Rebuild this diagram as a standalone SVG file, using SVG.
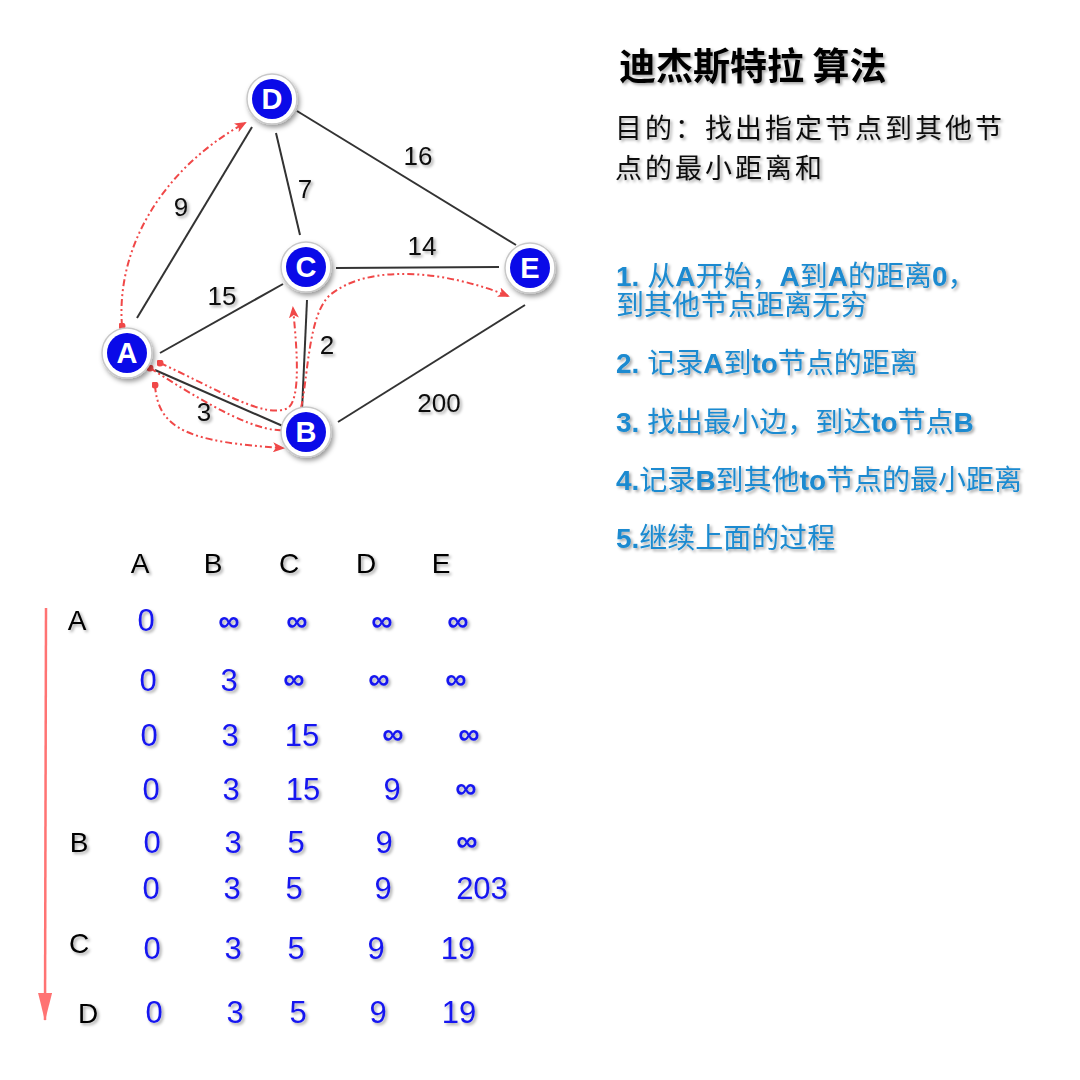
<svg xmlns="http://www.w3.org/2000/svg" width="1080" height="1080" viewBox="0 0 1080 1080">
<defs>
  <filter id="sh" x="-20%" y="-20%" width="150%" height="150%">
    <feDropShadow dx="2" dy="2" stdDeviation="1.5" flood-color="#000" flood-opacity="0.35"/>
  </filter>
  <filter id="nsh" x="-40%" y="-40%" width="190%" height="190%">
    <feDropShadow dx="2" dy="3" stdDeviation="2.5" flood-color="#000" flood-opacity="0.4"/>
  </filter>
  <marker id="ra" viewBox="0 0 12 10" refX="10" refY="5" markerWidth="12" markerHeight="10" markerUnits="userSpaceOnUse" orient="auto">
    <path d="M0,0 L12,5 L0,10 L3,5 Z" fill="#f04848"/>
  </marker>
  <marker id="rd" viewBox="0 0 8 8" refX="4" refY="4" markerWidth="7" markerHeight="7" markerUnits="userSpaceOnUse">
    <circle cx="4" cy="4" r="4" fill="#f04848"/>
  </marker>
  <marker id="va" viewBox="0 0 28 14" refX="27" refY="7" markerWidth="28" markerHeight="14" markerUnits="userSpaceOnUse" orient="auto">
    <path d="M0,0 L28,7 L0,14 Z" fill="#ff7373"/>
  </marker>
</defs>
<style>
  .edge { stroke:#333; stroke-width:2; fill:none; }
  .path { stroke:#f04848; stroke-width:2; fill:none; stroke-dasharray:7 3 2 3 2 3; marker-start:url(#rd); marker-end:url(#ra); }
  .ring { fill:#fff; stroke:#c8c8c8; stroke-width:1.5; filter:url(#nsh); }
  .core { fill:#0a0ae8; }
  .nl { font-family:"Liberation Sans", Arial, sans-serif; font-weight:bold; font-size:29px; fill:#fff; text-anchor:middle; }
  .el { font-family:"Liberation Sans", Arial, sans-serif; font-size:26px; fill:#111; text-anchor:middle; filter:url(#sh); }
  .title { font-family:"Noto Sans CJK SC", sans-serif; font-weight:bold; font-size:37px; fill:#000; filter:url(#sh); }
  .sub { font-family:"Noto Sans CJK SC", sans-serif; font-size:27px; letter-spacing:3px; fill:#111; filter:url(#sh); }
  .step { font-family:"Liberation Sans", "Noto Sans CJK SC", sans-serif; font-size:28px; fill:#1a8ad0; filter:url(#sh); }
  .step tspan.b { font-weight:bold; }
  .hd { font-family:"Liberation Sans", Arial, sans-serif; font-size:28px; fill:#000; text-anchor:middle; filter:url(#sh); }
  .num { font-family:"Liberation Sans", Arial, sans-serif; font-size:31px; fill:#1414f0; text-anchor:middle; filter:url(#sh); }
  .inf { font-family:"Liberation Sans", Arial, sans-serif; font-weight:bold; font-size:30px; fill:#1414f0; text-anchor:middle; filter:url(#sh); }
</style>
<rect width="1080" height="1080" fill="#fff"/>

<g id="connectors">
  <line class="edge" x1="297" y1="111" x2="516" y2="245"/>
  <line class="edge" x1="276" y1="133" x2="300" y2="235"/>
  <line class="edge" x1="137" y1="318" x2="252" y2="127"/>
  <line class="edge" x1="160" y1="353" x2="283" y2="284"/>
  <line class="edge" x1="336" y1="268" x2="499" y2="267"/>
  <line class="edge" x1="307" y1="300" x2="302" y2="410"/>
  <line class="edge" x1="155" y1="370" x2="285" y2="427"/>
  <line class="edge" x1="338" y1="422" x2="525" y2="305"/>
  <text class="el" x="181" y="216">9</text>
  <text class="el" x="305" y="198">7</text>
  <text class="el" x="418" y="165">16</text>
  <text class="el" x="422" y="255">14</text>
  <text class="el" x="222" y="305">15</text>
  <text class="el" x="327" y="354">2</text>
  <text class="el" x="439" y="412">200</text>
  <text class="el" x="204" y="421">3</text>
  <path class="path" d="M122,326 C116,250 160,170 245,123"/>
  <path class="path" d="M160,363 C215,388 265,420 288,408 C302,398 296,340 293,308"/>
  <path class="path" d="M150,368 C200,400 265,440 292,428 C310,415 302,320 330,295 C370,262 450,272 508,296"/>
  <path class="path" d="M155,385 C158,430 190,442 283,448"/>
</g>

<g id="node-D"><circle class="ring" cx="272" cy="99" r="25"/><circle class="core" cx="272" cy="99" r="20"/><text class="nl" x="272" y="109">D</text></g>
<g id="node-C"><circle class="ring" cx="306" cy="267" r="25"/><circle class="core" cx="306" cy="267" r="20"/><text class="nl" x="306" y="277">C</text></g>
<g id="node-E"><circle class="ring" cx="530" cy="268" r="25"/><circle class="core" cx="530" cy="268" r="20"/><text class="nl" x="530" y="278">E</text></g>
<g id="node-A"><circle class="ring" cx="127" cy="353" r="25"/><circle class="core" cx="127" cy="353" r="20"/><text class="nl" x="127" y="363">A</text></g>
<g id="node-B"><circle class="ring" cx="306" cy="432" r="25"/><circle class="core" cx="306" cy="432" r="20"/><text class="nl" x="306" y="442">B</text></g>

<g id="title">
  <text class="title" x="619" y="80">迪杰斯特拉 算法</text>
  <text class="sub" x="615" y="138">目的：找出指定节点到其他节</text>
  <text class="sub" x="615" y="178">点的最小距离和</text>
</g>

<g id="steps">
  <text class="step" x="616" y="286"><tspan class="b">1.</tspan> 从<tspan class="b">A</tspan>开始，<tspan class="b">A</tspan>到<tspan class="b">A</tspan>的距离<tspan class="b">0</tspan>，<tspan x="616" dy="29">到其他节点距离无穷</tspan></text>
  <text class="step" x="616" y="373"><tspan class="b">2.</tspan> 记录<tspan class="b">A</tspan>到<tspan class="b">to</tspan>节点的距离</text>
  <text class="step" x="616" y="432"><tspan class="b">3.</tspan> 找出最小边，到达<tspan class="b">to</tspan>节点<tspan class="b">B</tspan></text>
  <text class="step" x="616" y="490"><tspan class="b">4.</tspan>记录<tspan class="b">B</tspan>到其他<tspan class="b">to</tspan>节点的最小距离</text>
  <text class="step" x="616" y="548"><tspan class="b">5.</tspan>继续上面的过程</text>
</g>

<g id="table">
  <line x1="46" y1="608" x2="45" y2="1020" stroke="#ff7373" stroke-width="2.5" marker-end="url(#va)"/>
  <text class="hd" x="140" y="573">A</text>
  <text class="hd" x="213" y="573">B</text>
  <text class="hd" x="289" y="573">C</text>
  <text class="hd" x="366" y="573">D</text>
  <text class="hd" x="441" y="573">E</text>
  <text class="hd" x="77" y="630">A</text>
  <text class="hd" x="79" y="852">B</text>
  <text class="hd" x="79" y="953">C</text>
  <text class="hd" x="88" y="1023">D</text>

  <text class="num" x="146" y="631">0</text>
  <text class="inf" x="229" y="631">∞</text>
  <text class="inf" x="297" y="631">∞</text>
  <text class="inf" x="382" y="631">∞</text>
  <text class="inf" x="458" y="631">∞</text>

  <text class="num" x="148" y="691">0</text>
  <text class="num" x="229" y="691">3</text>
  <text class="inf" x="294" y="689">∞</text>
  <text class="inf" x="379" y="689">∞</text>
  <text class="inf" x="456" y="689">∞</text>

  <text class="num" x="149" y="746">0</text>
  <text class="num" x="230" y="746">3</text>
  <text class="num" x="302" y="746">15</text>
  <text class="inf" x="393" y="744">∞</text>
  <text class="inf" x="469" y="744">∞</text>

  <text class="num" x="151" y="800">0</text>
  <text class="num" x="231" y="800">3</text>
  <text class="num" x="303" y="800">15</text>
  <text class="num" x="392" y="800">9</text>
  <text class="inf" x="466" y="798">∞</text>

  <text class="num" x="152" y="853">0</text>
  <text class="num" x="233" y="853">3</text>
  <text class="num" x="296" y="853">5</text>
  <text class="num" x="384" y="853">9</text>
  <text class="inf" x="467" y="851">∞</text>

  <text class="num" x="151" y="899">0</text>
  <text class="num" x="232" y="899">3</text>
  <text class="num" x="294" y="899">5</text>
  <text class="num" x="383" y="899">9</text>
  <text class="num" x="482" y="899">203</text>

  <text class="num" x="152" y="959">0</text>
  <text class="num" x="233" y="959">3</text>
  <text class="num" x="296" y="959">5</text>
  <text class="num" x="376" y="959">9</text>
  <text class="num" x="458" y="959">19</text>

  <text class="num" x="154" y="1023">0</text>
  <text class="num" x="235" y="1023">3</text>
  <text class="num" x="298" y="1023">5</text>
  <text class="num" x="378" y="1023">9</text>
  <text class="num" x="459" y="1023">19</text>
</g>
</svg>
